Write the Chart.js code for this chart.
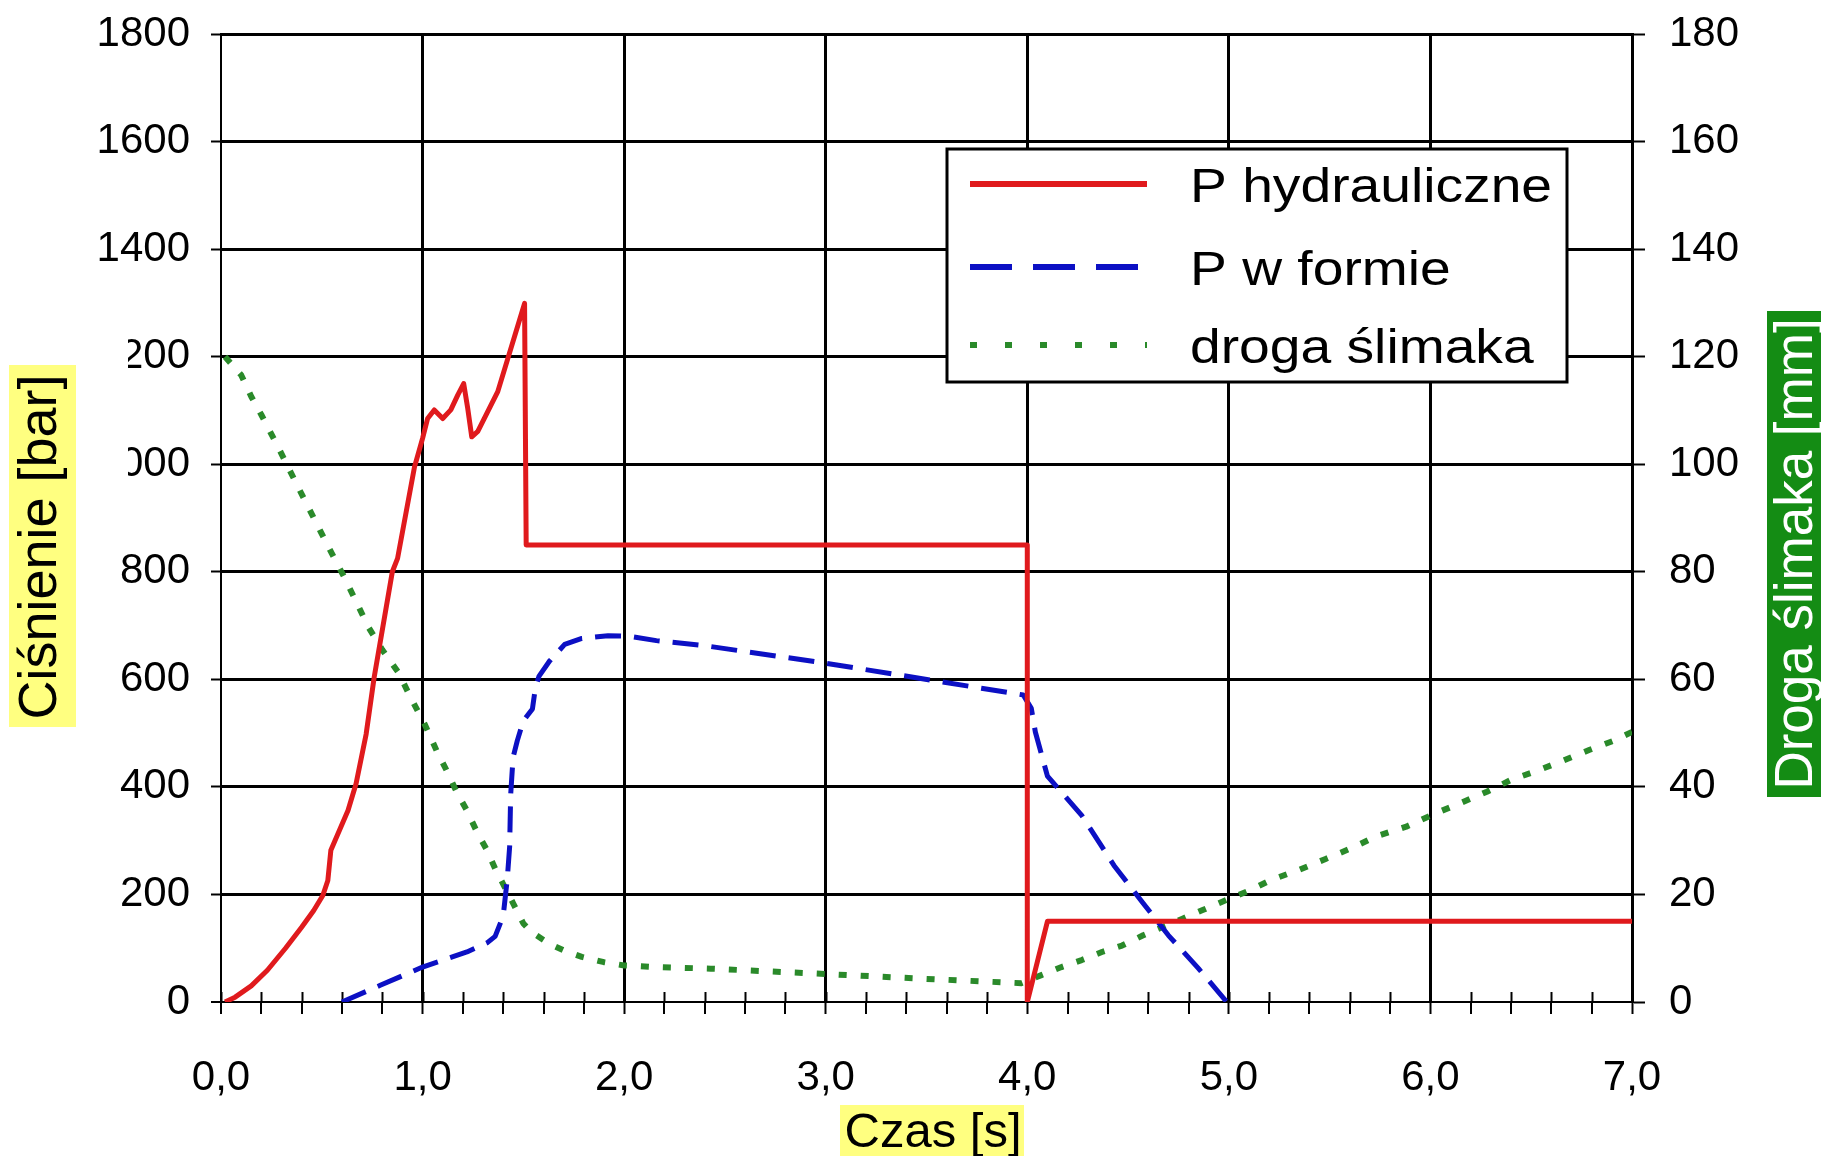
<!DOCTYPE html>
<html>
<head>
<meta charset="utf-8">
<script src="https://cdn.jsdelivr.net/npm/chart.js@4.4.1/dist/chart.umd.min.js"></script>
<style>
  html, body { margin: 0; padding: 0; background: #fff; }
  #wrap { width: 1821px; height: 1156px; }
</style>
</head>
<body>
<div id="wrap"><canvas id="chart" width="1821" height="1156"></canvas></div>
<script>
// P hydrauliczne [bar] vs czas [s]
const hydTime = [0.02, 0.07, 0.15, 0.23, 0.32, 0.40, 0.46, 0.505, 0.53, 0.545, 0.60, 0.63, 0.67, 0.72, 0.76, 0.85, 0.876, 0.96,
  1.00, 1.025, 1.058, 1.10, 1.14, 1.175, 1.204, 1.224, 1.244, 1.274, 1.373, 1.506, 1.514, 4.0, 4.0, 4.1, 7.0];
const hydBar = [0, 9, 30, 59, 100, 139, 170, 198, 226, 282, 330, 356, 406, 498, 604, 800, 825, 995,
  1048, 1085, 1101, 1085, 1101, 1129, 1150, 1104, 1051, 1061, 1135, 1299, 850, 850, 0, 150, 150];

// P w formie [bar]
const formTime = [0.60, 0.79, 1.00, 1.22, 1.32, 1.36, 1.40, 1.42, 1.432, 1.437, 1.449, 1.47, 1.50, 1.545, 1.56, 1.578, 1.63,
  1.705, 1.79, 1.92, 2.03, 2.16, 2.41, 3.0, 3.78, 3.98, 4.02, 4.04, 4.10, 4.27, 4.43, 4.57, 4.70, 4.85, 4.99];
const formBar = [0, 31, 65, 93, 110, 122, 160, 228, 289, 385, 455, 486, 523, 545, 585, 606, 634,
  665, 676, 681, 680, 672, 662, 630, 583, 571, 546, 502, 420, 347, 254, 186, 124, 62, 0];

// droga ślimaka [mm]
const screwTime = [0.02, 0.10, 0.15, 0.20, 0.29, 0.39, 0.49, 0.54, 0.61, 0.67, 0.73, 0.80, 0.88, 0.94, 1.01, 1.07, 1.12, 1.17,
  1.22, 1.27, 1.32, 1.36, 1.45, 1.50, 1.54, 1.63, 1.70, 1.79, 1.90, 2.00, 2.16, 2.43, 3.0, 3.5, 3.97, 4.07, 4.17, 4.27,
  4.37, 4.47, 4.575, 4.675, 4.77, 4.87, 4.97, 5.10, 5.21, 5.35, 5.48, 5.62, 5.73, 5.88, 6.02, 6.15, 6.28, 6.40, 6.53,
  6.66, 6.79, 6.91, 7.00];
const screwMm = [120, 116.6, 112.6, 109.2, 102.7, 95.2, 87.8, 84.1, 79.1, 74.5, 69.8, 65.5, 61.3, 56.7, 51.7, 46.7, 43.0, 39.0,
  35.6, 31.6, 28.2, 24.8, 18.3, 14.6, 13.0, 10.8, 9.6, 8.4, 7.4, 6.8, 6.5, 6.2, 5.2, 4.3, 3.5, 5.0, 6.5, 7.8,
  9.3, 10.5, 12.4, 14.0, 15.5, 17.1, 18.7, 20.7, 22.7, 24.6, 26.6, 28.8, 30.8, 32.6, 35.0, 37.0, 39.1, 41.3, 43.0,
  44.9, 46.9, 48.6, 50.2];

const seriesLabels = ['P hydrauliczne', 'P w formie', 'droga ślimaka'];
const xTickLabels = ['0,0', '1,0', '2,0', '3,0', '4,0', '5,0', '6,0', '7,0'];
const axisTitles = { left: 'Ciśnienie [bar]', right: 'Droga ślimaka [mm]', bottom: 'Czas [s]' };

const FONT = "'Liberation Sans', Arial, Helvetica, sans-serif";
const RED = '#e01a1d';
const BLUE = '#0c10c4';
const GREEN = '#2a8a2a';

const isWhole = (v) => Math.abs(v - Math.round(v)) < 1e-6;
const toPoints = (xs, ys) => xs.map((x, i) => ({ x, y: ys[i] }));
const noEdgePadding = (s) => {
  s.paddingTop = 0;
  s.paddingBottom = 0;
  s.paddingLeft = 0;
  s.paddingRight = 0;
};

// small tick marks poking up into the plot from the time axis
const innerTicks = {
  id: 'innerTicks',
  beforeDatasetsDraw(chart) {
    const { ctx, chartArea } = chart;
    const xs = chart.scales.x;
    ctx.save();
    ctx.strokeStyle = '#000';
    ctx.lineWidth = 2;
    xs.ticks.forEach((t) => {
      const px = Math.round(xs.getPixelForValue(t.value)) + 0.5;
      ctx.beginPath();
      ctx.moveTo(px, chartArea.bottom);
      ctx.lineTo(px, chartArea.bottom - 10);
      ctx.stroke();
    });
    ctx.restore();
  },
};

// axis titles with their coloured boxes, and the framed legend
const decorations = {
  id: 'decorations',
  afterDraw(chart) {
    const { ctx } = chart;
    ctx.save();

    // white box of the left title hides the front of two tick labels
    ctx.fillStyle = '#fff';
    ctx.fillRect(78, 290, 50, 210);

    ctx.fillStyle = '#ffff80';
    ctx.fillRect(9, 365, 67, 362);
    ctx.save();
    ctx.translate(56, 547);
    ctx.rotate(-Math.PI / 2);
    ctx.fillStyle = '#000';
    ctx.font = `54px ${FONT}`;
    ctx.textAlign = 'center';
    ctx.textBaseline = 'alphabetic';
    ctx.fillText(axisTitles.left, 0, 0);
    ctx.restore();

    ctx.fillStyle = '#148c14';
    ctx.fillRect(1767, 311, 54, 486);
    ctx.save();
    ctx.translate(1812, 554);
    ctx.rotate(-Math.PI / 2);
    ctx.fillStyle = '#fff';
    ctx.font = `53px ${FONT}`;
    ctx.textAlign = 'center';
    ctx.textBaseline = 'alphabetic';
    ctx.fillText(axisTitles.right, 0, 0);
    ctx.restore();

    ctx.fillStyle = '#ffff80';
    ctx.fillRect(840, 1105, 184, 51);
    ctx.fillStyle = '#000';
    ctx.font = `49px ${FONT}`;
    ctx.textAlign = 'center';
    ctx.textBaseline = 'alphabetic';
    ctx.fillText(axisTitles.bottom, 933, 1147);

    // legend
    const box = { x: 947, y: 149, w: 620, h: 233 };
    ctx.fillStyle = '#fff';
    ctx.fillRect(box.x, box.y, box.w, box.h);
    ctx.strokeStyle = '#000';
    ctx.lineWidth = 3;
    ctx.strokeRect(box.x, box.y, box.w, box.h);

    const baselines = [202, 285, 363];
    const sampleDash = [[], [42, 21], [7, 28]];
    chart.data.datasets.forEach((ds, i) => {
      const y = baselines[i] - 18;
      ctx.save();
      ctx.strokeStyle = ds.borderColor;
      ctx.lineWidth = 6;
      ctx.setLineDash(sampleDash[i]);
      ctx.beginPath();
      ctx.moveTo(970, y);
      ctx.lineTo(1147, y);
      ctx.stroke();
      ctx.restore();

      ctx.save();
      ctx.translate(1190, baselines[i]);
      ctx.scale(1.15, 1);
      ctx.fillStyle = '#000';
      ctx.font = `48px ${FONT}`;
      ctx.textAlign = 'left';
      ctx.textBaseline = 'alphabetic';
      ctx.fillText(ds.label, 0, 0);
      ctx.restore();
    });

    ctx.restore();
  },
};

new Chart(document.getElementById('chart'), {
  type: 'line',
  data: {
    datasets: [
      {
        label: seriesLabels[0],
        data: toPoints(hydTime, hydBar),
        yAxisID: 'y',
        borderColor: RED,
        borderWidth: 5,
      },
      {
        label: seriesLabels[1],
        data: toPoints(formTime, formBar),
        yAxisID: 'y',
        borderColor: BLUE,
        borderWidth: 5,
        borderDash: [26, 13],
      },
      {
        label: seriesLabels[2],
        data: toPoints(screwTime, screwMm),
        yAxisID: 'y2',
        borderColor: GREEN,
        borderWidth: 6,
        borderDash: [8, 14],
      },
    ],
  },
  options: {
    responsive: false,
    animation: false,
    events: [],
    layout: { padding: { top: 34, left: 0, right: 0, bottom: 0 } },
    elements: {
      point: { radius: 0 },
      line: { tension: 0, borderJoinStyle: 'round', fill: false },
    },
    plugins: {
      legend: { display: false },
      tooltip: { enabled: false },
      title: { display: false },
    },
    scales: {
      x: {
        type: 'linear',
        min: 0,
        max: 7,
        afterFit: (s) => { s.height = 154; noEdgePadding(s); },
        ticks: {
          stepSize: 0.2,
          autoSkip: false,
          maxRotation: 0,
          minRotation: 0,
          padding: 39,
          color: '#000',
          font: { family: FONT, size: 42 },
          callback: (v) => (isWhole(v) ? xTickLabels[Math.round(v)] : ''),
        },
        grid: {
          color: '#000',
          lineWidth: (c) => (c.tick && isWhole(c.tick.value) ? (c.tick.value === 0 ? 2 : 3) : 0),
          tickLength: 12,
          tickWidth: 2,
          tickColor: '#000',
        },
        border: { display: true, color: '#000', width: 2 },
      },
      y: {
        position: 'left',
        min: 0,
        max: 1800,
        afterFit: (s) => { s.width = 221; noEdgePadding(s); },
        ticks: {
          stepSize: 200,
          padding: 21,
          color: '#000',
          font: { family: FONT, size: 42 },
          callback: (v) => String(v),
        },
        grid: {
          color: '#000',
          lineWidth: (c) => (c.tick && c.tick.value === 0 ? 2 : 3),
          tickLength: 10,
          tickWidth: 2,
          tickColor: '#000',
        },
        border: { display: true, color: '#000', width: 2 },
      },
      y2: {
        position: 'right',
        min: 0,
        max: 180,
        afterFit: (s) => { s.width = 189; noEdgePadding(s); },
        ticks: {
          stepSize: 20,
          padding: 24,
          color: '#000',
          font: { family: FONT, size: 42 },
          callback: (v) => String(v),
        },
        grid: {
          drawOnChartArea: false,
          color: '#000',
          tickLength: 13,
          tickWidth: 2,
          tickColor: '#000',
        },
        border: { display: true, color: '#000', width: 3 },
      },
    },
  },
  plugins: [innerTicks, decorations],
});
</script>
</body>
</html>
